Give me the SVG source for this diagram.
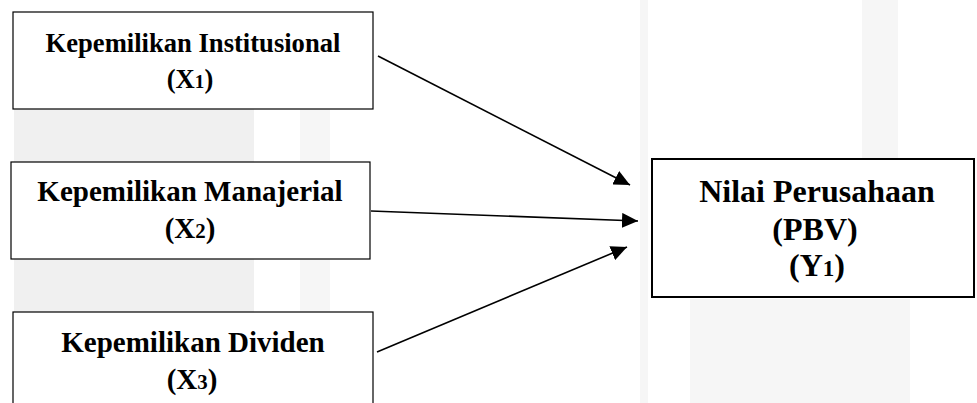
<svg xmlns="http://www.w3.org/2000/svg" width="977" height="403" viewBox="0 0 977 403">
<style>
.box{fill:#fff;stroke:#000;stroke-width:1.2}
.box2{fill:#fff;stroke:#000;stroke-width:2}
.t{font-family:"Liberation Serif","Times New Roman",serif;font-weight:bold;fill:#000;text-anchor:middle}
.s{font-size:72%}
.c{stroke:#000;stroke-width:1.6;fill:none;marker-end:url(#ah)}
.bg{fill:#f0f0f0}
.bg2{fill:#f6f6f6}
</style>
<defs>
<marker id="ah" viewBox="0 0 16 15" refX="16" refY="7.5" markerWidth="16" markerHeight="15" markerUnits="userSpaceOnUse" orient="auto">
<path d="M0,0 L16,7.5 L0,15 Z" fill="#000"/>
</marker>
</defs>
<rect width="977" height="403" fill="#fff"/>
<g id="background">
<rect class="bg" x="14" y="109" width="240" height="53"/>
<rect class="bg" x="14" y="259" width="240" height="53"/>
<rect class="bg2" x="300" y="109" width="30" height="53"/>
<rect class="bg2" x="300" y="259" width="30" height="53"/>
<rect class="bg2" x="640" y="0" width="8" height="403"/>
<rect class="bg2" x="690" y="299" width="220" height="104"/>
<rect class="bg2" x="862" y="0" width="36" height="159"/>
</g>
<g id="connectors">
<line class="c" x1="378" y1="56" x2="630" y2="185"/>
<line class="c" x1="371" y1="211" x2="638" y2="221"/>
<line class="c" x1="377" y1="352" x2="627" y2="247"/>
</g>
<g id="x1">
<rect class="box" x="13" y="12" width="360" height="97"/>
<text class="t" x="193" y="52" font-size="26.6">Kepemilikan Institusional</text>
<text class="t" x="190" y="88" font-size="26.6">(X<tspan class="s">1</tspan>)</text>
</g>
<g id="x2">
<rect class="box" x="11" y="162" width="359" height="97"/>
<text class="t" x="190" y="201" font-size="29">Kepemilikan Manajerial</text>
<text class="t" x="190" y="238" font-size="29">(X<tspan class="s">2</tspan>)</text>
</g>
<g id="x3">
<rect class="box" x="13" y="312" width="360" height="100"/>
<text class="t" x="193" y="352" font-size="29">Kepemilikan Dividen</text>
<text class="t" x="192" y="389" font-size="29">(X<tspan class="s">3</tspan>)</text>
</g>
<g id="y1">
<rect class="box2" x="652" y="159" width="322" height="138"/>
<text class="t" x="817" y="202" font-size="32">Nilai Perusahaan</text>
<text class="t" x="815" y="240" font-size="32">(PBV)</text>
<text class="t" x="817" y="276" font-size="32">(Y<tspan class="s">1</tspan>)</text>
</g>
</svg>
